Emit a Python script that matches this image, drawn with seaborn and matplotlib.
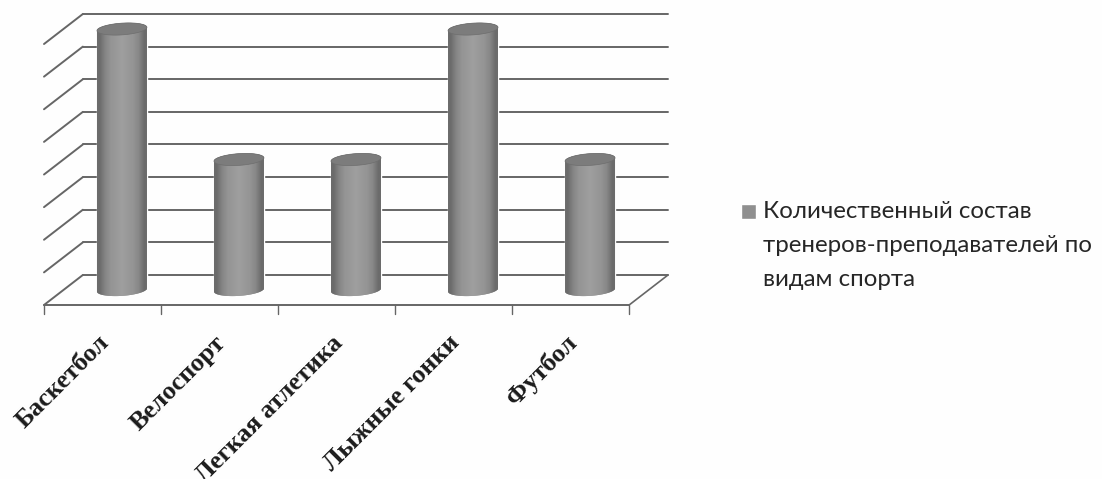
import numpy as np
import pandas as pd
import matplotlib
matplotlib.use("Agg")
import matplotlib.pyplot as plt
from matplotlib.patches import PathPatch, Polygon
from matplotlib.path import Path
from matplotlib.transforms import ScaledTranslation
import seaborn as sns

sports = ["Баскетбол", "Велоспорт", "Легкая атлетика", "Лыжные гонки", "Футбол"]
coaches = [8, 4, 4, 8, 4]
levels = [0, 1, 2, 3, 4, 5, 6, 7, 8]
legend_label = "Количественный состав\nтренеров-преподавателей по\nвидам спорта"

# depth of the fake 3d box, in data units
DEPTH_X = 0.166
DEPTH_Y = 0.46
BAR_W = 0.427
CAP_H = 0.18
TILT = 0.05
LINE = "#666666"

sns.set_theme(style="white")
plt.rcParams["font.family"] = ["Liberation Serif", "DejaVu Serif"]

fig = plt.figure(figsize=(11.02, 4.79), dpi=100, facecolor="#fefefe")
ax = fig.add_axes([44 / 1102, (479 - 305) / 479, 624 / 1102, 291 / 479])
ax.set_facecolor("none")

df = pd.DataFrame({"sport": sports, "coaches": coaches})
sns.barplot(data=df, x="sport", y="coaches", color="#8f8f8f", saturation=1,
            width=BAR_W, label=legend_label, ax=ax, zorder=3)

x_lo = -0.5 - DEPTH_X
x_hi = len(sports) - 0.5 + DEPTH_X

# back wall lines and left wall diagonals
for lev in levels:
    ax.plot([x_lo + 2 * DEPTH_X, x_hi], [lev + DEPTH_Y] * 2, color=LINE, lw=1.4, zorder=1, clip_on=False)
    ax.plot([x_lo, x_lo + 2 * DEPTH_X], [lev - DEPTH_Y, lev + DEPTH_Y], color=LINE, lw=1.4, zorder=1, clip_on=False)

# floor front edge, right edge, category ticks
ax.plot([x_lo, x_hi - 2 * DEPTH_X], [-DEPTH_Y] * 2, color=LINE, lw=1.4, zorder=1, clip_on=False)
ax.plot([x_hi - 2 * DEPTH_X, x_hi], [-DEPTH_Y, DEPTH_Y], color=LINE, lw=1.2, zorder=1, clip_on=False)
for i in range(len(sports) + 1):
    tx = x_lo + i
    ax.plot([tx, tx], [-DEPTH_Y, -DEPTH_Y - 0.28], color=LINE, lw=1.0, zorder=1, clip_on=False)

# round the bars off into cylinders
shade = np.array([[0.42, 0.52, 0.58, 0.6, 0.62, 0.6, 0.58, 0.53, 0.42]])
for i, val in enumerate(coaches):
    a = BAR_W / 2
    t = np.linspace(np.pi, 2 * np.pi, 40)
    low_x = i + a * np.cos(t)
    low_y = CAP_H * np.sin(t) + TILT * np.cos(t)
    t2 = np.linspace(0, np.pi, 40)
    up_x = i + a * np.cos(t2)
    up_y = val + CAP_H * np.sin(t2) + TILT * np.cos(t2)
    body = np.column_stack([np.r_[low_x, up_x], np.r_[low_y, up_y]])
    body_patch = PathPatch(Path(np.vstack([body, body[0]]), closed=True), fc="#8f8f8f", ec="none", zorder=4)
    ax.add_patch(body_patch)
    im = ax.imshow(shade, cmap="gray", vmin=0, vmax=1, aspect="auto", interpolation="bilinear",
                   extent=[i - a, i + a, -0.4, val + 0.4], zorder=5)
    im.set_clip_path(body_patch)
    t3 = np.linspace(0, 2 * np.pi, 80)
    cap = np.column_stack([i + a * np.cos(t3), val + CAP_H * np.sin(t3) + TILT * np.cos(t3)])
    ax.add_patch(Polygon(cap, closed=True, fc="#7c7c7c", ec="#6e6e6e", lw=0.5, zorder=6))

ax.set_xlim(x_lo, x_hi)
ax.set_ylim(-DEPTH_Y, levels[-1] + DEPTH_Y)
ax.set_xlabel("")
ax.set_ylabel("")
ax.set_yticks([])
ax.tick_params(axis="x", length=0, pad=0)
sns.despine(ax=ax, left=True, bottom=True)

offset = ScaledTranslation(-25 / 100, -26 / 100, fig.dpi_scale_trans)
for lab in ax.get_xticklabels():
    lab.set_rotation(45)
    lab.set_rotation_mode("anchor")
    lab.set_ha("right")
    lab.set_va("top")
    lab.set_fontsize(18.8)
    lab.set_fontweight("bold")
    lab.set_color("#1c1c1c")
    lab.set_transform(lab.get_transform() + offset)

leg = ax.legend(loc="upper left", bbox_to_anchor=(741 / 1102, (479 - 201) / 479),
                bbox_transform=fig.transFigure, frameon=False, handlelength=0.62,
                handleheight=0.62, handletextpad=0.3, borderpad=0, borderaxespad=0,
                prop={"family": "Lato", "size": 17.3}, labelcolor="#262626",
                alignment="left")
for txt in leg.get_texts():
    txt.set_linespacing(1.76)
# the marker sits on the first text line, not the middle one
for handle in leg.legend_handles:
    handle.set_y(25)

fig.savefig("out.png", dpi=100, facecolor=fig.get_facecolor())
